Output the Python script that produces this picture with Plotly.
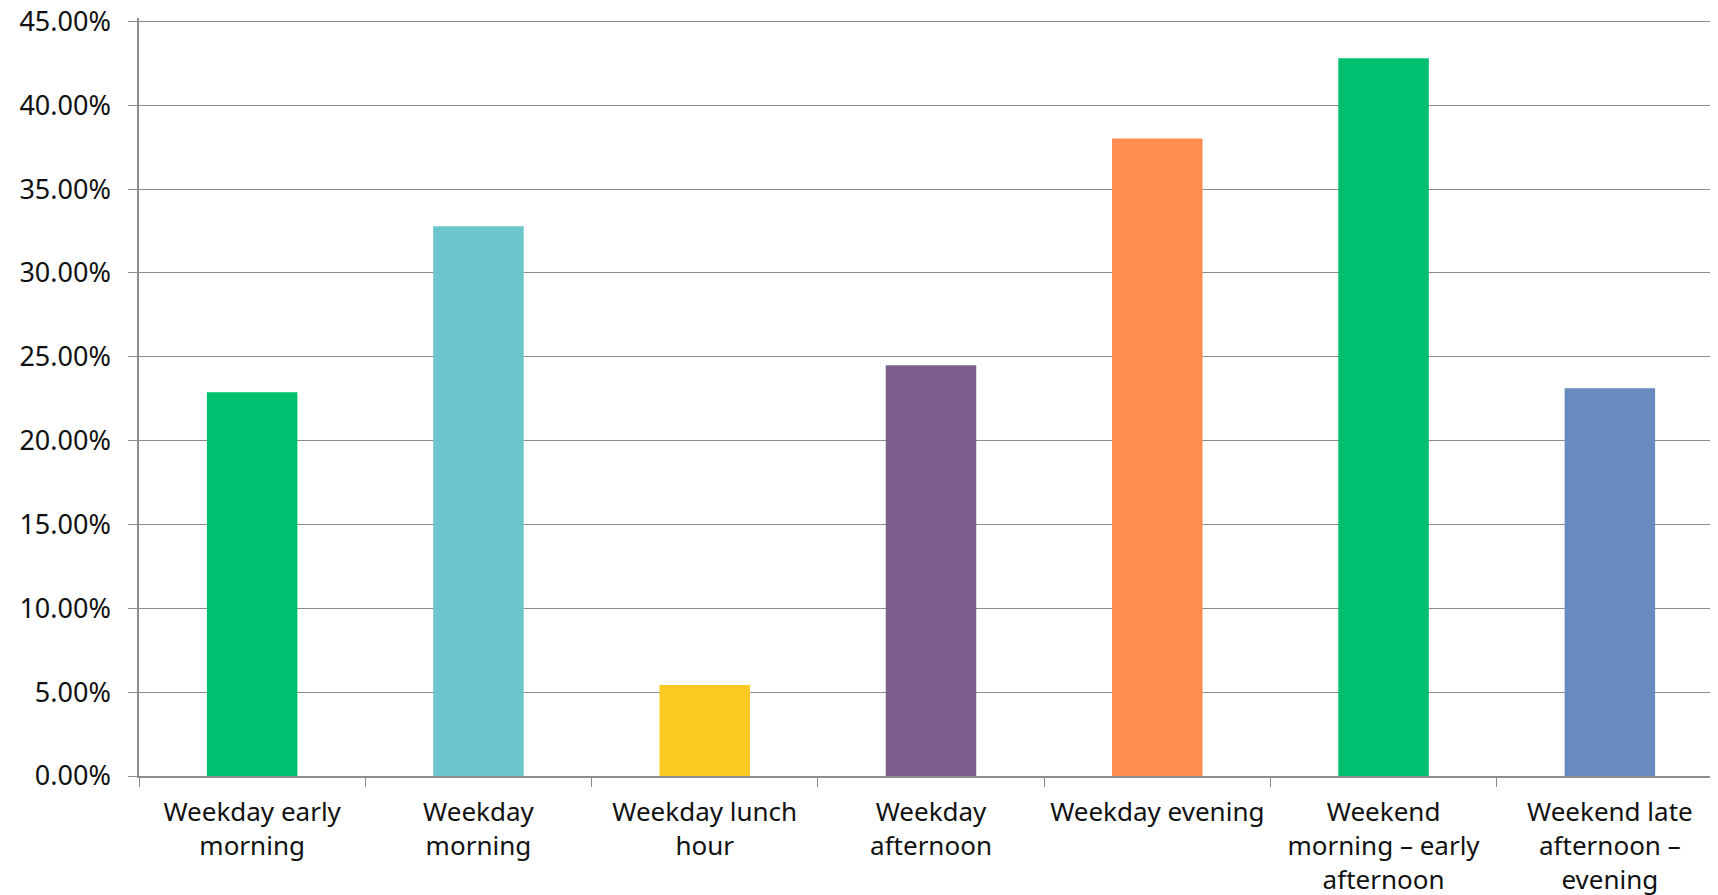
import plotly.graph_objects as go

categories = [
    "Weekday early<br>morning",
    "Weekday<br>morning",
    "Weekday lunch<br>hour",
    "Weekday<br>afternoon",
    "Weekday evening",
    "Weekend<br>morning – early<br>afternoon",
    "Weekend late<br>afternoon –<br>evening",
]
values = [0.2288, 0.3278, 0.0543, 0.2450, 0.3802, 0.4280, 0.2312]
colors = ["#00BF6F", "#6CC5CA", "#FBC920", "#7B5E8C", "#FF8C50", "#00BF6F", "#688BBF"]
y_ticks = [0.0, 0.05, 0.10, 0.15, 0.20, 0.25, 0.30, 0.35, 0.40, 0.45]
y_tick_labels = ["0.00%", "5.00%", "10.00%", "15.00%", "20.00%", "25.00%",
                 "30.00%", "35.00%", "40.00%", "45.00%"]

fig = go.Figure(
    go.Bar(
        x=categories,
        y=values,
        marker=dict(color=colors, line=dict(width=0)),
        width=0.4,
    )
)

font_family = "'Noto Sans', 'Open Sans', sans-serif"

fig.update_layout(
    width=1715,
    height=887,
    margin=dict(l=131, r=0, t=10, b=119),
    paper_bgcolor="white",
    plot_bgcolor="white",
    showlegend=False,
    font=dict(family=font_family, size=26, color="#111111"),
)

fig.update_xaxes(
    type="category",
    range=[-0.5, 6.5],
    tickson="boundaries",
    ticks="outside",
    ticklen=9,
    tickcolor="#8c8c8c",
    showline=True,
    linecolor="#8c8c8c",
    linewidth=1.5,
    showgrid=False,
    tickfont=dict(size=26),
    ticklabelstandoff=12,
    automargin=False,
)

fig.update_yaxes(
    range=[0, 0.452],
    tickmode="array",
    tickvals=y_ticks,
    ticktext=y_tick_labels,
    showgrid=True,
    gridcolor="#8c8c8c",
    gridwidth=1.2,
    showline=True,
    linecolor="#8c8c8c",
    linewidth=1.5,
    ticks="outside",
    ticklen=9,
    tickcolor="#8c8c8c",
    tickfont=dict(size=27),
    ticklabelstandoff=12,
    ticklabeloverflow="allow",
    zeroline=False,
    automargin=False,
)

fig.write_html("out.html")
